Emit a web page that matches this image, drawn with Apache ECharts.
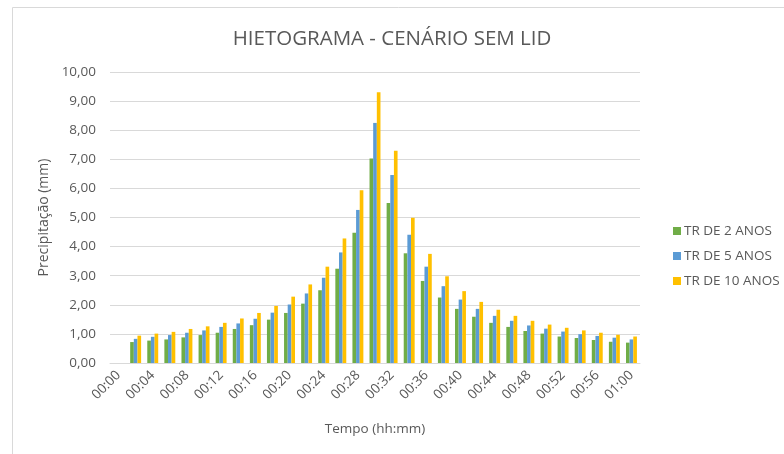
<!DOCTYPE html>
<html>
	<head>
		<meta charset="utf-8" />
		<title>Hietograma</title>
	</head>
	<body style="margin:0;background:#fff;">
		<div id="chart" style="width:784px;height:454px;"></div>
	</body>
</html>
<script src="https://cdn.jsdelivr.net/npm/echarts@6/dist/echarts.min.js"></script>
<script>
	// tempo de 2 em 2 minutos
	var tempos = ['00:00','00:02','00:04','00:06','00:08','00:10','00:12','00:14','00:16','00:18',
		'00:20','00:22','00:24','00:26','00:28','00:30','00:32','00:34','00:36','00:38',
		'00:40','00:42','00:44','00:46','00:48','00:50','00:52','00:54','00:56','00:58','01:00'];

	var tr2 = [null,0.72,0.77,0.81,0.88,0.96,1.04,1.17,1.30,1.49,1.72,2.04,2.50,3.24,4.48,7.03,
		5.50,3.77,2.82,2.25,1.86,1.59,1.38,1.24,1.10,1.01,0.91,0.86,0.79,0.73,0.70];
	var tr5 = [null,0.83,0.90,0.96,1.04,1.12,1.24,1.36,1.52,1.73,2.01,2.39,2.93,3.80,5.26,8.25,
		6.46,4.41,3.31,2.64,2.18,1.86,1.62,1.45,1.29,1.18,1.08,0.99,0.93,0.87,0.81];
	var tr10 = [null,0.94,1.01,1.07,1.17,1.26,1.38,1.53,1.72,1.96,2.28,2.70,3.31,4.28,5.94,9.30,
		7.29,4.99,3.75,2.98,2.47,2.10,1.83,1.62,1.45,1.32,1.21,1.12,1.04,0.97,0.91];

	var nomes = ['TR DE 2 ANOS','TR DE 5 ANOS','TR DE 10 ANOS'];
	var cores = ['#70AD47','#5B9BD5','#FFC000'];

	var fonte = 'Open Sans';
	var cinza = '#595959';
	var myChart = echarts.init(document.getElementById('chart'));

	var options = {
		animation: false,
		color: cores,
		textStyle: { fontFamily: fonte },
		title: {
			text: 'HIETOGRAMA - CENÁRIO SEM LID',
			left: 'center',
			top: 24,
			textStyle: { fontFamily: fonte, fontSize: 20.5, fontWeight: 'normal', color: cinza }
		},
		graphic: [{
			type: 'rect',
			shape: { x: 12.5, y: 7.5, width: 800, height: 500 },
			style: { fill: null, stroke: '#D9D9D9', lineWidth: 1 },
			silent: true
		}],
		legend: {
			orient: 'vertical',
			left: 668,
			top: 219,
			itemWidth: 8,
			itemHeight: 8,
			itemGap: 11,
			icon: 'rect',
			textStyle: { fontFamily: fonte, fontSize: 13.5, color: cinza, padding: [0, 0, 0, -2] },
			data: nomes
		},
		grid: {
			left: 110,
			right: 144,
			top: 72,
			bottom: 91
		},
		xAxis: {
			type: 'category',
			data: tempos,
			name: 'Tempo (hh:mm)',
			nameLocation: 'middle',
			nameGap: 59,
			nameTextStyle: { fontFamily: fonte, fontSize: 13.5, color: cinza },
			axisLine: { lineStyle: { color: '#D9D9D9' } },
			axisTick: { show: false },
			axisLabel: {
				interval: 1,
				rotate: 45,
				fontSize: 13.5,
				color: cinza,
				margin: 10
			}
		},
		yAxis: {
			type: 'value',
			min: 0,
			max: 10,
			interval: 1,
			name: 'Precipitação (mm)',
			nameLocation: 'middle',
			nameGap: 57,
			nameTextStyle: { fontFamily: fonte, fontSize: 14, color: cinza },
			axisLine: { show: false },
			axisTick: { show: false },
			splitLine: { lineStyle: { color: '#D9D9D9' } },
			axisLabel: {
				fontSize: 13.5,
				color: cinza,
				margin: 14,
				formatter: function (v) { return v.toFixed(2).replace('.', ','); }
			}
		},
		series: [
			{ name: nomes[0], type: 'bar', data: tr2, barGap: '0%', barCategoryGap: '36%' },
			{ name: nomes[1], type: 'bar', data: tr5, barGap: '0%', barCategoryGap: '36%' },
			{ name: nomes[2], type: 'bar', data: tr10, barGap: '0%', barCategoryGap: '36%' }
		]
	};

	myChart.setOption(options);
</script>
